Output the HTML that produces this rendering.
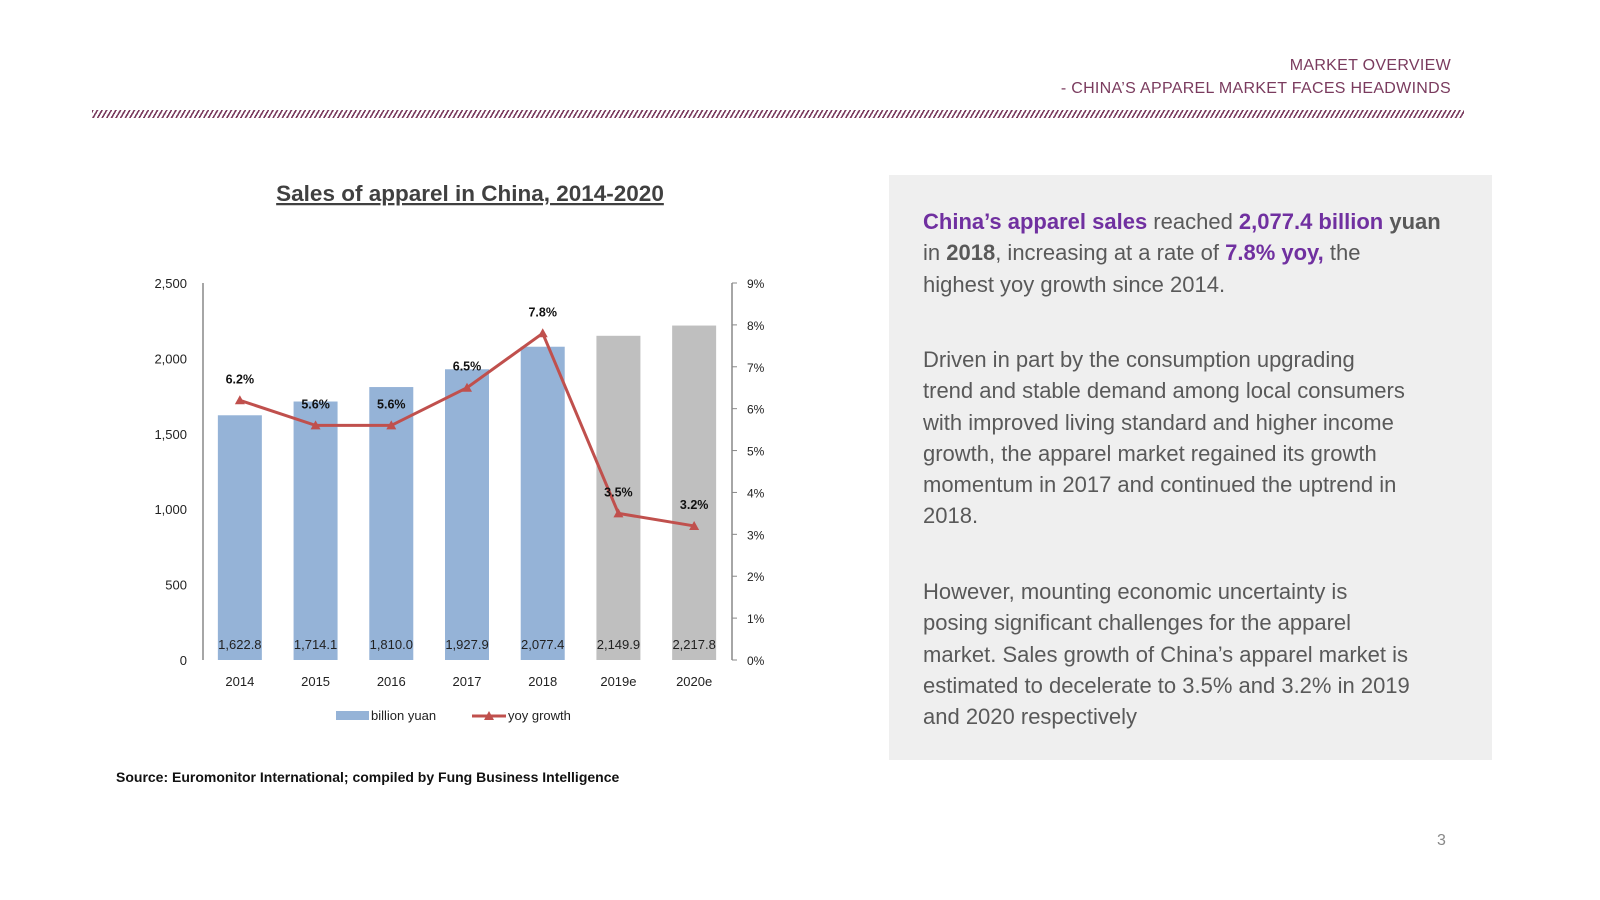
<!DOCTYPE html>
<html><head><meta charset="utf-8"><style>
body{margin:0;width:1600px;height:900px;background:#fff;position:relative;font-family:"Liberation Sans",sans-serif;overflow:hidden}
.hdr{position:absolute;right:149px;text-align:right;color:#7a3b5e;font-size:16px;letter-spacing:0.3px}
.hatch{position:absolute;left:92px;top:110px;width:1372px;height:8px;background:repeating-linear-gradient(120deg,#7a3b5e 0 1.6px,transparent 1.6px 4px)}
.panel{position:absolute;left:889px;top:175px;width:603px;height:585px;background:#efefef}
.txt{position:absolute;left:923px;color:#595959;font-size:22px;line-height:31.3px;white-space:nowrap}
.p{color:#7030a0;font-weight:bold}.b{font-weight:bold}
</style></head><body>
<div class="hdr" style="top:57px">MARKET OVERVIEW</div>
<div class="hdr" style="top:80px">- CHINA’S APPAREL MARKET FACES HEADWINDS</div>
<div class="hatch"></div>
<div class="panel"></div>
<div class="txt" style="top:206px"><span class="p">China’s apparel sales</span> reached <span class="p">2,077.4 billion</span> <span class="b">yuan</span><br>in <span class="b">2018</span>, increasing at a rate of <span class="p">7.8% yoy,</span> the<br>highest yoy growth since 2014.</div>
<div class="txt" style="top:344px">Driven in part by the consumption upgrading<br>trend and stable demand among local consumers<br>with improved living standard and higher income<br>growth, the apparel market regained its growth<br>momentum in 2017 and continued the uptrend in<br>2018.</div>
<div class="txt" style="top:576px">However, mounting economic uncertainty is<br>posing significant challenges for the apparel<br>market. Sales growth of China’s apparel market is<br>estimated to decelerate to 3.5% and 3.2% in 2019<br>and 2020 respectively</div>
<div style="position:absolute;left:1437px;top:832px;color:#888;font-size:16px">3</div>
<svg id="chart" width="1600" height="900" style="position:absolute;left:0;top:0" font-family="Liberation Sans, sans-serif"></svg>
<script>
const categories=["2014","2015","2016","2017","2018","2019e","2020e"];
const sales=[1622.8,1714.1,1810.0,1927.9,2077.4,2149.9,2217.8];
const growth=[6.2,5.6,5.6,6.5,7.8,3.5,3.2];
const estimated=[false,false,false,false,false,true,true];
const leftTicks=[0,500,1000,1500,2000,2500];
const rightTicks=[0,1,2,3,4,5,6,7,8,9];
const svg=document.getElementById('chart');const NS='http://www.w3.org/2000/svg';
function mk(t,a,txt){const e=document.createElementNS(NS,t);for(const k in a)e.setAttribute(k,a[k]);if(txt!==undefined)e.textContent=txt;svg.appendChild(e);return e;}
const X0=202,X1=732,Y0=660,Y1=283,band=(X1-X0)/categories.length;
const xc=i=>X0+band*(i+0.5);
const yL=v=>Y0-(v/2500)*(Y0-Y1);
const yR=v=>Y0-(v/9)*(Y0-Y1);
let e;
e=mk('text',{x:470,y:201,'text-anchor':'middle','font-size':22.5,'font-weight':'bold',fill:'#404040','text-decoration':'underline'},'Sales of apparel in China, 2014-2020');

e=mk('line',{x1:203,y1:Y1,x2:203,y2:Y0,stroke:'#888','stroke-width':1.5});

e=mk('line',{x1:X1,y1:Y1,x2:X1,y2:Y0,stroke:'#888','stroke-width':1.5});

leftTicks.forEach(v=>{e=mk('text',{x:187,y:yL(v)+5,'text-anchor':'end','font-size':13,fill:'#222'},v.toLocaleString('en-US'));
});
rightTicks.forEach(v=>{mk('line',{x1:X1,y1:yR(v),x2:X1+5,y2:yR(v),stroke:'#888'});
e=mk('text',{x:747,y:yR(v)+5,'font-size':12,fill:'#222'},v+'%');
});
categories.forEach((c,i)=>{
e=mk('rect',{x:xc(i)-22,y:yL(sales[i]),width:44,height:Y0-yL(sales[i]),fill:estimated[i]?'#bfbfbf':'#95b3d7'});

e=mk('text',{x:xc(i),y:649,'text-anchor':'middle','font-size':13,fill:'#222'},sales[i].toLocaleString('en-US',{minimumFractionDigits:1}));

e=mk('text',{x:xc(i),y:686,'text-anchor':'middle','font-size':13,fill:'#222'},c);

});
e=mk('polyline',{points:growth.map((g,i)=>xc(i)+','+yR(g)).join(' '),fill:'none',stroke:'#c0504d','stroke-width':3});

growth.forEach((g,i)=>{const x=xc(i),y=yR(g);
e=mk('polygon',{points:`${x},${y-5} ${x-5},${y+4} ${x+5},${y+4}`,fill:'#c0504d'});

e=mk('text',{x:x,y:y-17,'text-anchor':'middle','font-size':12.5,'font-weight':'bold',fill:'#111'},g.toFixed(1)+'%');
});
e=mk('rect',{x:336,y:711,width:33,height:9,fill:'#95b3d7'});

e=mk('text',{x:371,y:720,'font-size':13,fill:'#222'},'billion yuan');

mk('line',{x1:472,y1:716,x2:506,y2:716,stroke:'#c0504d','stroke-width':3});
mk('polygon',{points:'489,711 484,720 494,720',fill:'#c0504d'});
e=mk('text',{x:508,y:720,'font-size':13,fill:'#222'},'yoy growth');

e=mk('text',{x:116,y:782,'font-size':14,'font-weight':'bold',fill:'#111'},'Source: Euromonitor International; compiled by Fung Business Intelligence');

</script>
</body></html>
